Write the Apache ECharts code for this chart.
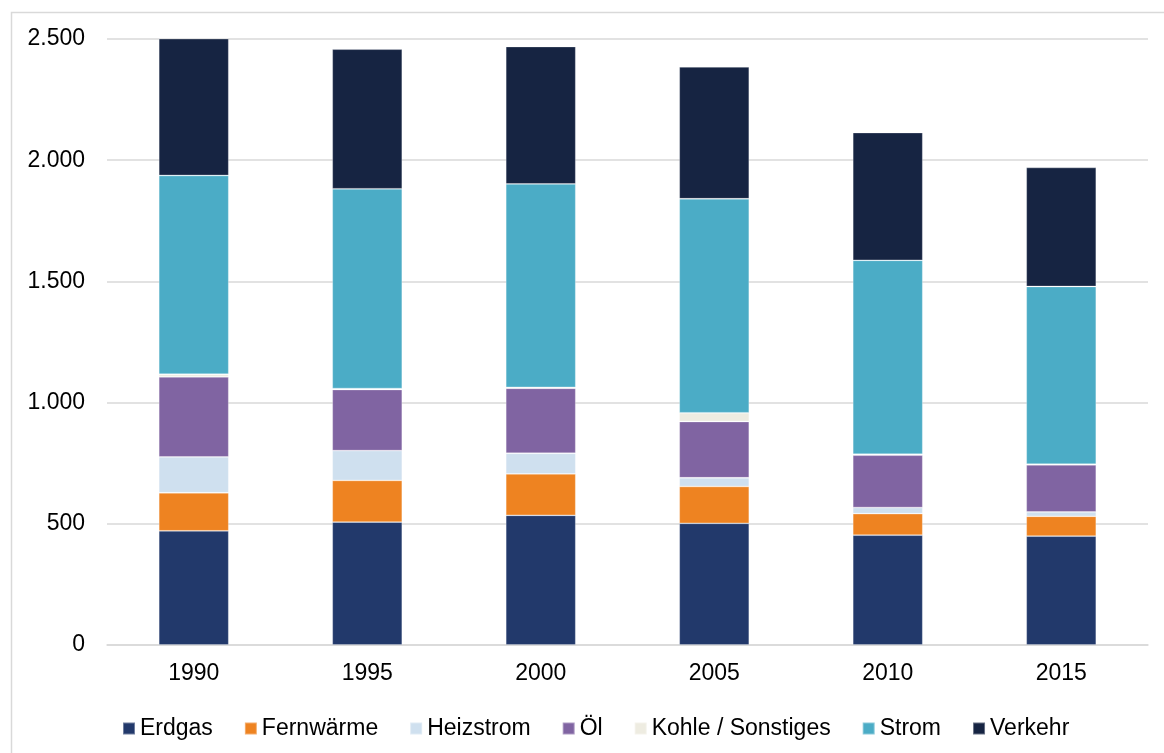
<!DOCTYPE html>
<html>
<head>
<meta charset="utf-8">
<script src="https://cdn.jsdelivr.net/npm/echarts@6/dist/echarts.min.js"></script>
<style>
html,body{margin:0;padding:0;background:#fff;}
#chart{width:1164px;height:753px;}
</style>
</head>
<body>
<div id="chart"></div>
<script>
const categories = ['1990','1995','2000','2005','2010','2015'];
const erdgas      = [471, 507, 535, 502, 453, 449];
const fernwaerme  = [157, 172, 171, 152, 89, 82];
const heizstrom   = [148, 123, 85, 36, 25, 18];
const oel         = [330, 252, 268, 232, 216, 194];
const kohle       = [11, 4, 4, 36, 4, 3];
const strom       = [820, 824, 839, 883, 800, 733];
const verkehr     = [565, 576, 567, 544, 527, 491];
const yTicks      = [0, 500, 1000, 1500, 2000, 2500];

const seriesDefs = [
  ['Erdgas', erdgas, '#22396B'],
  ['Fernwärme', fernwaerme, '#EE8321'],
  ['Heizstrom', heizstrom, '#CFE0EF'],
  ['Öl', oel, '#8064A2'],
  ['Kohle / Sonstiges', kohle, '#EEECE1'],
  ['Strom', strom, '#4BACC6'],
  ['Verkehr', verkehr, '#162442']
];

const chart = echarts.init(document.getElementById('chart'), null, {renderer:'canvas'});
const font = 'Liberation Sans, Arial, sans-serif';
chart.setOption({
  animation: false,
  backgroundColor: '#ffffff',
  graphic: [{
    type: 'rect', left: 9, top: 10, silent: true,
    shape: {width: 1200, height: 800},
    style: {fill: 'none', stroke: '#D9D9D9', lineWidth: 1.5}
  }],
  grid: {left: 107, right: 16, top: 39, bottom: 108, containLabel: false},
  legend: {
    left: 117, top: 712,
    itemWidth: 12, itemHeight: 12, itemGap: 31,
    icon: 'rect',
    textStyle: {fontFamily: font, fontSize: 23, color: '#000'},
    data: seriesDefs.map(s => s[0])
  },
  xAxis: {
    type: 'category', data: categories,
    axisLine: {lineStyle: {color: '#D9D9D9', width: 1.5}},
    axisTick: {show: false},
    axisLabel: {fontFamily: font, fontSize: 23, color: '#000', margin: 17}
  },
  yAxis: {
    type: 'value', min: yTicks[0], max: yTicks[yTicks.length-1], interval: 500,
    axisLine: {show: false}, axisTick: {show: false},
    splitLine: {lineStyle: {color: '#D9D9D9', width: 1.5}},
    axisLabel: {
      fontFamily: font, fontSize: 23, color: '#000', margin: 22,
      formatter: v => v >= 1000 ? String(v).replace(/\B(?=(\d{3})+(?!\d))/g, '.') : String(v)
    }
  },
  series: seriesDefs.map(([name, data, color]) => ({
    name, type: 'bar', stack: 'total', data,
    barWidth: 70,
    itemStyle: {color, borderColor: 'rgba(255,255,255,0.35)', borderWidth: 0.8}
  }))
});
</script>
</body>
</html>
